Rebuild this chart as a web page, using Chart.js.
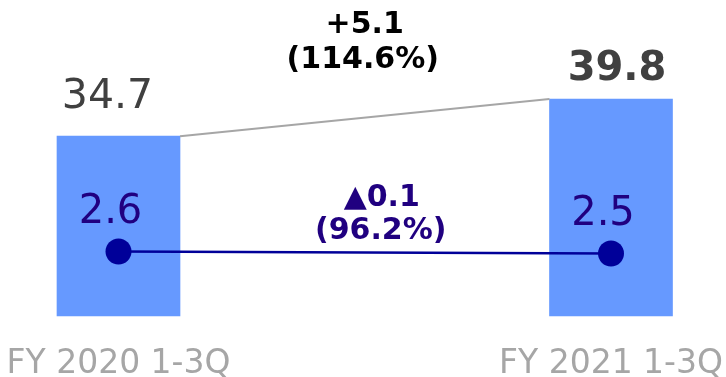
<!DOCTYPE html>
<html lang="en">
<head>
<meta charset="UTF-8" />
<title>FY 1-3Q comparison</title>
<script src="https://cdn.jsdelivr.net/npm/chart.js"></script>
<style>
  body { margin: 0; background: #fff; }
  #wrap { width: 726px; height: 377px; }
</style>
</head>
<body>
<div id="wrap"><canvas id="chart" width="726" height="377"></canvas></div>
<script>
  const periods = ['FY 2020 1-3Q', 'FY 2021 1-3Q'];
  const totals = [34.7, 39.8];
  const profits = [2.6, 2.5];
  const totalChange = ['+5.1', '(114.6%)'];
  const profitChange = ['▲0.1', '(96.2%)'];

  const FONT = '"DejaVu Sans", Verdana, sans-serif';
  const BAR_MIN = 10;

  // etiquetas, conector y textos de variación
  const labelPlugin = {
    id: 'labels',
    afterDatasetsDraw(chart) {
      const ctx = chart.ctx;
      const bars = chart.getDatasetMeta(0).data;
      const dots = chart.getDatasetMeta(1).data;
      ctx.save();

      // línea gris entre las barras
      ctx.strokeStyle = '#a6a6a6';
      ctx.lineWidth = 2;
      ctx.beginPath();
      ctx.moveTo(bars[0].x + bars[0].width / 2, bars[0].y);
      ctx.lineTo(bars[1].x - bars[1].width / 2, bars[1].y);
      ctx.stroke();

      ctx.textAlign = 'center';
      ctx.textBaseline = 'alphabetic';

      // valores de las barras
      ctx.fillStyle = '#404040';
      ctx.font = '41px ' + FONT;
      ctx.fillText(totals[0].toFixed(1), bars[0].x - 11, bars[0].y - 28);
      ctx.font = 'bold 40px ' + FONT;
      ctx.fillText(totals[1].toFixed(1), bars[1].x + 6, bars[1].y - 19);

      // valores de la línea
      ctx.fillStyle = '#200080';
      ctx.font = '40px ' + FONT;
      dots.forEach((p, i) => {
        ctx.fillText(profits[i].toFixed(1), p.x - 8, p.y - 29);
      });

      // variación total
      const mx = (bars[0].x + bars[1].x) / 2;
      const my = (bars[0].y + bars[1].y) / 2;
      ctx.fillStyle = '#000000';
      ctx.font = 'bold 30px ' + FONT;
      ctx.fillText(totalChange[0], mx, my - 85);
      ctx.fillText(totalChange[1], mx - 2, my - 50);

      // variación de la línea
      const px = (dots[0].x + dots[1].x) / 2;
      const py = (dots[0].y + dots[1].y) / 2;
      ctx.fillStyle = '#200080';
      ctx.fillText(profitChange[0], px + 17, py - 47);
      ctx.fillText(profitChange[1], px + 16, py - 14);

      ctx.restore();
    }
  };

  new Chart(document.getElementById('chart'), {
    type: 'bar',
    data: {
      labels: periods,
      datasets: [
        {
          label: 'Total',
          data: totals,
          backgroundColor: '#6699ff',
          barThickness: 123,
          base: BAR_MIN,
          clip: false,
          yAxisID: 'y',
          order: 1
        },
        {
          type: 'line',
          label: 'Profit',
          data: profits,
          borderColor: '#000099',
          borderWidth: 2.5,
          pointRadius: 13,
          pointBackgroundColor: '#000099',
          pointBorderWidth: 0,
          clip: false,
          yAxisID: 'y1',
          order: 0
        }
      ]
    },
    options: {
      responsive: false,
      animation: false,
      layout: { autoPadding: false, padding: { left: 118.5, right: 115, top: 0, bottom: 0 } },
      scales: {
        x: {
          offset: false,
          grid: { display: false, drawTicks: false },
          border: { display: false },
          afterFit(scale) {
            scale.height = 61;
            scale.paddingLeft = 0;
            scale.paddingRight = 0;
          },
          ticks: {
            color: '#a6a6a6',
            padding: 30,
            maxRotation: 0,
            autoSkip: false,
            font: { family: FONT, size: 33, lineHeight: 1.1 }
          }
        },
        y: { display: false, min: BAR_MIN, max: 53.4 },
        y1: { display: false, min: -0.625, max: 15.175 }
      },
      plugins: {
        legend: { display: false },
        tooltip: { enabled: false }
      }
    },
    plugins: [labelPlugin]
  });
</script>
</body>
</html>
